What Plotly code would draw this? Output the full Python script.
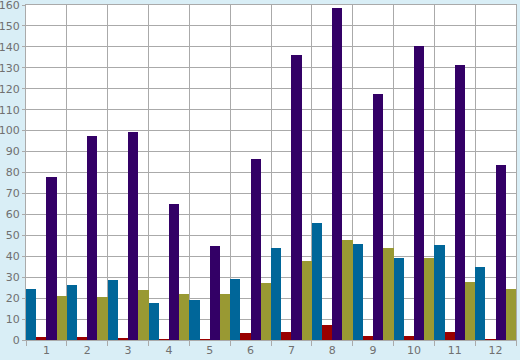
import plotly.graph_objects as go

categories = ["1", "2", "3", "4", "5", "6", "7", "8", "9", "10", "11", "12"]
blue_vals = [24.4, 26.3, 28.7, 17.7, 19.1, 29.1, 44.0, 56.0, 45.8, 39.2, 45.4, 34.9]
red_vals = [1.4, 1.4, 0.6, 0.3, 0.3, 3.3, 3.8, 7.1, 2.0, 2.0, 3.8, 0.3]
purple_vals = [78.0, 97.5, 99.5, 65.0, 45.0, 86.5, 136.0, 158.5, 117.5, 140.2, 131.2, 83.5]
olive_vals = [21.0, 20.5, 23.9, 22.0, 22.0, 27.0, 37.7, 48.0, 44.0, 39.2, 27.7, 24.4]
y_ticks = [0, 10, 20, 30, 40, 50, 60, 70, 80, 90, 100, 110, 120, 130, 140, 150, 160]

series = [
    ("Series 1", blue_vals, "#006699"),
    ("Series 2", red_vals, "#990000"),
    ("Series 3", purple_vals, "#330066"),
    ("Series 4", olive_vals, "#999933"),
]

fig = go.Figure()
for name, vals, color in series:
    fig.add_trace(go.Bar(x=categories, y=vals, name=name, marker=dict(color=color, line=dict(width=0))))

fig.update_layout(
    width=520, height=360,
    margin=dict(l=26, r=4, t=5, b=20),
    paper_bgcolor="#d9eef6",
    plot_bgcolor="#ffffff",
    barmode="group", bargap=0, bargroupgap=0,
    showlegend=False,
    font=dict(family="DejaVu Sans", size=11, color="#707070"),
)
fig.update_xaxes(
    type="category", range=[-0.5, 11.5], tickson="boundaries", automargin=False,
    showgrid=True, gridcolor="#aaaaaa", gridwidth=1,
    ticks="outside", ticklen=5, tickcolor="#aaaaaa",
    showline=True, linecolor="#aaaaaa", mirror=True,
)
fig.update_yaxes(
    range=[0, 160], tickmode="array", tickvals=y_ticks, ticktext=[str(v) for v in y_ticks],
    ticklabeloverflow="allow",
    showgrid=True, gridcolor="#aaaaaa", gridwidth=1, automargin=False,
    ticks="outside", ticklen=3, tickcolor="#aaaaaa",
    showline=True, linecolor="#aaaaaa", mirror=True, zeroline=False,
)

fig.write_html(
    "out.html",
    config={"displayModeBar": False},
    post_script="document.body.style.margin='0';document.body.style.overflow='hidden';",
)
